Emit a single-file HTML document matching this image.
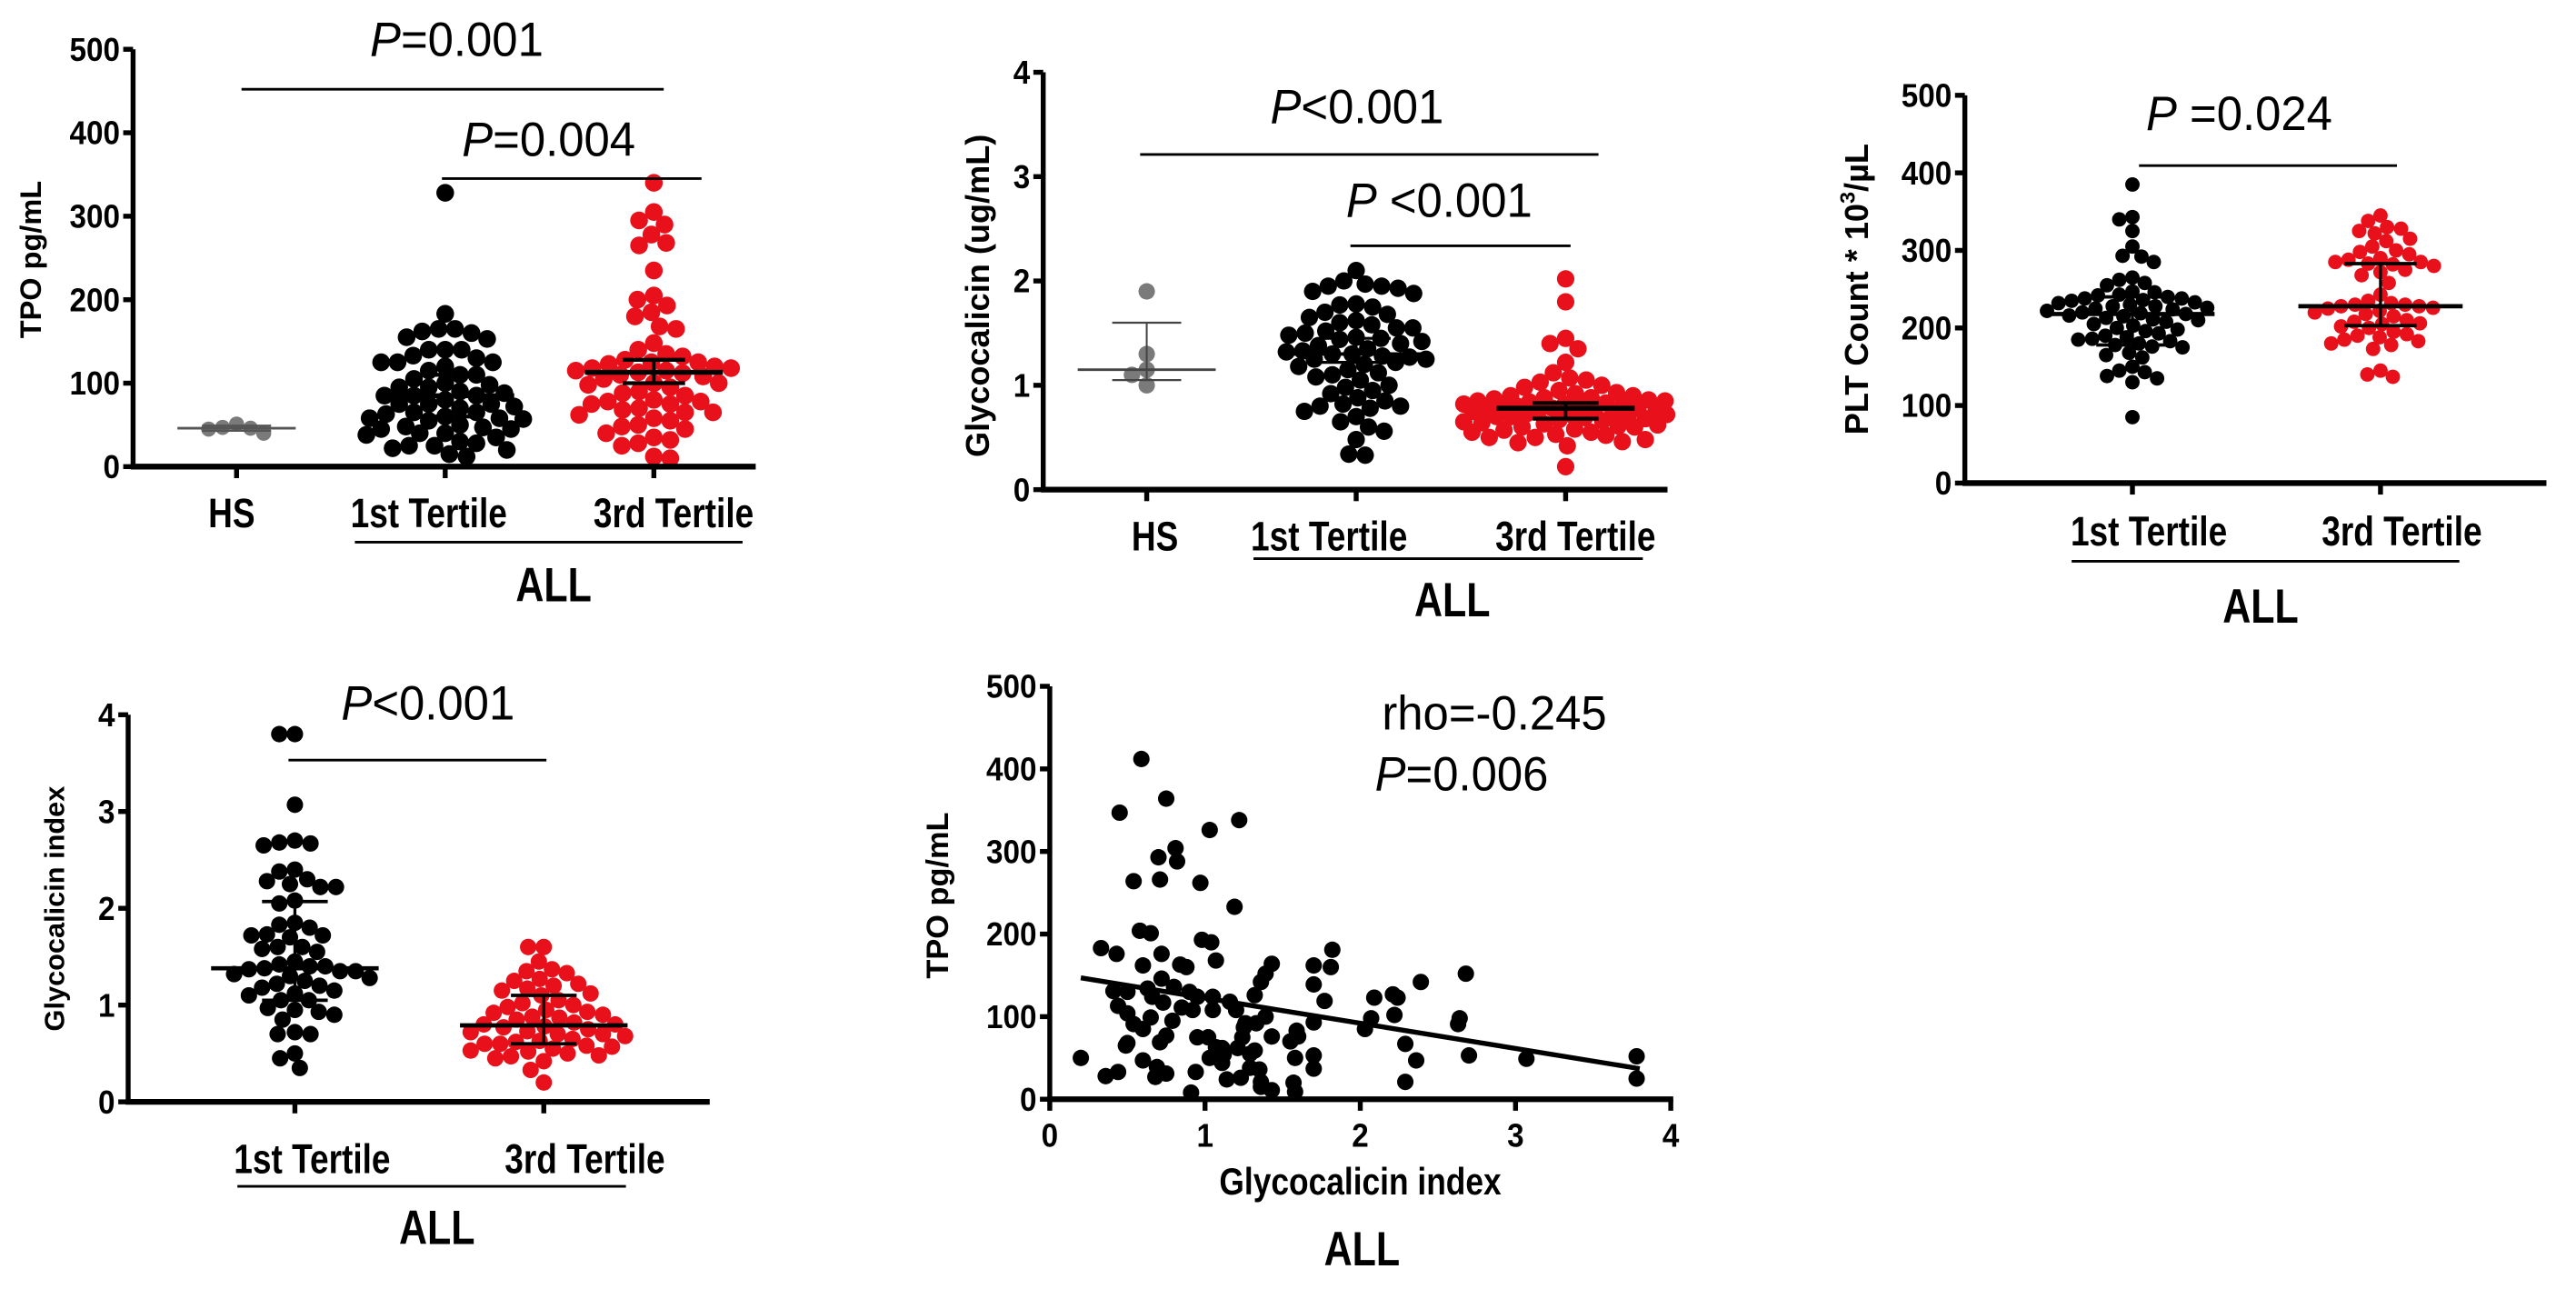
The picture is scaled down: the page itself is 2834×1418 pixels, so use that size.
<!DOCTYPE html>
<html><head><meta charset="utf-8"><title>TPO and Glycocalicin panels</title>
<style>
html,body{margin:0;padding:0;background:#fff;}
svg{display:block;}
.tick{font-family:"Liberation Sans",sans-serif;font-weight:bold;font-size:20px;fill:#000;}
.cat{font-family:"Liberation Sans",sans-serif;font-weight:bold;font-size:25px;fill:#000;}
.all{font-family:"Liberation Sans",sans-serif;font-weight:bold;font-size:29px;fill:#000;}
.ylab{font-family:"Liberation Sans",sans-serif;font-weight:bold;font-size:15px;fill:#000;}
.pv{font-family:"Liberation Sans",sans-serif;font-size:29px;fill:#000;}
</style></head>
<body>
<svg id="fig" width="2834" height="1418" viewBox="0 0 1568 784.5" preserveAspectRatio="none" xmlns="http://www.w3.org/2000/svg"></svg>
<script>
// ---- Panel A: TPO (pg/mL)
const aCats = ["HS","1st Tertile","3rd Tertile"];
const aTicks = [0,100,200,300,400,500];
const aHS = [46,51,45,47,40];
const aT1 = [328,183,165,165,162,160,153,155,140,140,140,133,130,125,125,125,120,115,110,110,105,100,98,95,95,90,88,85,85,85,80,75,75,75,72,70,65,65,63,60,58,58,57,55,50,48,47,45,45,40,40,38,35,30,28,25,25,22,20,15,12];
const aT3 = [340,305,295,290,278,268,265,235,205,200,193,185,180,168,165,148,140,135,132,128,125,125,123,120,118,118,115,115,113,112,110,108,105,100,100,98,95,90,88,85,80,78,78,75,75,70,68,65,65,62,58,55,50,48,45,40,35,32,28,25,12,10];
const aMedian = [46,85,113];
const aLow = [43,60,100];
const aHigh = [49,110,128];
// ---- Panel B: Glycocalicin (ug/mL)
const bCats = ["HS","1st Tertile","3rd Tertile"];
const bTicks = [0,1,2,3,4];
const bHS = [1.9,1.3,1.15,1.1,1.0];
const bT1 = [2.1,2.0,1.97,1.95,1.95,1.93,1.9,1.88,1.78,1.77,1.75,1.7,1.68,1.65,1.62,1.6,1.58,1.55,1.55,1.52,1.5,1.48,1.46,1.45,1.44,1.42,1.4,1.38,1.35,1.33,1.32,1.3,1.3,1.28,1.27,1.25,1.25,1.22,1.2,1.18,1.15,1.12,1.1,1.08,1.05,1.0,0.98,0.95,0.92,0.88,0.85,0.82,0.8,0.8,0.78,0.75,0.7,0.65,0.6,0.56,0.48,0.34,0.33];
const bT3 = [2.02,1.8,1.45,1.4,1.35,1.22,1.12,1.07,1.05,1.03,1.0,0.98,0.95,0.93,0.92,0.9,0.9,0.88,0.88,0.87,0.86,0.85,0.85,0.84,0.83,0.82,0.82,0.81,0.8,0.8,0.79,0.78,0.78,0.77,0.77,0.76,0.75,0.75,0.74,0.73,0.72,0.72,0.71,0.7,0.7,0.69,0.68,0.67,0.66,0.65,0.64,0.63,0.62,0.61,0.6,0.6,0.58,0.57,0.55,0.55,0.53,0.52,0.5,0.5,0.48,0.46,0.45,0.42,0.22];
const bMedian = [1.15,1.3,0.78];
const bLow = [1.05,1.22,0.68];
const bHigh = [1.6,1.45,0.83];
// ---- Panel C: PLT count
const cCats = ["1st Tertile","3rd Tertile"];
const cTicks = [0,100,200,300,400,500];
const cT1 = [385,343,340,325,305,293,292,285,265,262,258,255,247,246,243,242,240,238,238,236,235,233,232,230,228,228,226,225,224,222,220,219,218,216,215,213,211,210,208,205,203,200,198,196,193,190,188,186,185,183,180,178,176,175,168,165,162,150,145,143,138,135,130,85];
const cT3 = [345,338,330,328,325,322,315,312,305,300,298,295,290,288,285,285,283,282,280,275,272,268,258,243,235,232,230,230,228,228,226,225,222,220,218,215,210,208,206,205,202,200,195,192,190,188,185,183,180,178,173,145,140,137];
const cMedian = [218,228];
const cLow = [178,203];
const cHigh = [240,283];
// ---- Panel D: Glycocalicin index
const dCats = ["1st Tertile","3rd Tertile"];
const dTicks = [0,1,2,3,4];
const dT1 = [3.8,3.8,3.07,2.7,2.68,2.67,2.65,2.4,2.38,2.3,2.28,2.25,2.22,2.22,2.08,2.05,1.85,1.83,1.8,1.73,1.72,1.72,1.7,1.6,1.6,1.58,1.55,1.45,1.42,1.4,1.4,1.38,1.37,1.35,1.35,1.32,1.3,1.28,1.25,1.22,1.2,1.18,1.15,1.12,1.1,1.05,1.05,0.97,0.95,0.93,0.9,0.85,0.72,0.7,0.7,0.5,0.45,0.35];
const dT3 = [1.6,1.6,1.45,1.37,1.35,1.33,1.27,1.25,1.22,1.2,1.17,1.15,1.12,1.1,1.05,1.02,1.0,0.98,0.95,0.93,0.92,0.9,0.88,0.87,0.85,0.82,0.8,0.8,0.78,0.77,0.75,0.73,0.72,0.7,0.7,0.68,0.65,0.63,0.62,0.6,0.6,0.58,0.57,0.55,0.53,0.52,0.5,0.48,0.47,0.45,0.42,0.33,0.2];
const dMedian = [1.38,0.79];
const dLow = [1.05,0.6];
const dHigh = [2.07,1.1];
// ---- Panel E: scatter TPO vs glycocalicin index
const eXTicks = [0,1,2,3,4];
const eYTicks = [0,100,200,300,400,500];
const eX = [0.2,0.33,0.36,0.43,0.45,0.44,0.41,0.44,0.5,0.5,0.49,0.5,0.54,0.54,0.58,0.59,0.6,0.6,0.6,0.65,0.65,0.63,0.66,0.68,0.69,0.7,0.71,0.72,0.72,0.71,0.73,0.75,0.75,0.75,0.8,0.79,0.81,0.82,0.84,0.88,0.85,0.9,0.91,0.92,0.94,0.95,0.97,0.98,0.95,1.02,1.03,1.03,1.04,1.05,1.05,1.07,1.07,1.11,1.11,1.12,1.14,1.16,1.19,1.2,1.21,1.22,1.23,1.24,1.25,1.26,1.29,1.29,1.32,1.32,1.33,1.35,1.36,1.36,1.36,1.39,1.39,1.43,1.43,1.43,1.55,1.57,1.58,1.58,1.59,1.6,1.7,1.7,1.7,1.7,1.7,1.77,1.81,1.82,2.03,2.07,2.09,2.21,2.24,2.22,2.29,2.29,2.36,2.39,2.63,2.64,2.68,2.7,3.07,3.78,3.78];
const eY = [50,183,28,176,347,33,131,113,130,104,65,68,264,91,204,412,85,47,162,201,99,134,124,27,39,293,266,176,146,69,117,77,364,31,136,95,304,288,163,160,111,130,8,108,33,75,262,193,124,75,326,50,190,124,108,168,63,44,62,54,24,118,233,108,62,338,26,75,87,92,55,38,59,126,92,36,15,142,21,152,100,164,76,11,70,20,9,50,83,76,93,37,139,53,162,119,160,181,85,98,123,127,123,102,67,21,47,142,91,98,152,53,49,52,25];
const eFitX = [0.2,3.8];
const eFitY = [147,37];

const NS = "http://www.w3.org/2000/svg";
const svg = document.getElementById('fig');
const SQ = 0.82; // horizontal condensing for narrow look
function mk(tag, attrs, parent){ const e=document.createElementNS(NS,tag); for(const k in attrs) e.setAttribute(k,attrs[k]); (parent||svg).appendChild(e); return e; }
function txt(s, x, y, cls, anchor, parent, sq){ const t=mk('text',{x:0,y:0,'class':cls,'text-anchor':anchor||'middle',transform:`translate(${x},${y}) scale(${sq||SQ},1)`},parent); t.textContent=s; return t; }
function line(x1,y1,x2,y2,w,parent,col){ return mk('line',{x1:x1,y1:y1,x2:x2,y2:y2,stroke:col||'#000','stroke-width':w},parent); }
function pText(parent, x, y, rest){ const t=mk('text',{x:0,y:0,'class':'pv','text-anchor':'middle',transform:`translate(${x},${y}) scale(0.97,1)`},parent); const a=document.createElementNS(NS,'tspan'); a.setAttribute('font-style','italic'); a.textContent='P'; t.appendChild(a); const b=document.createElementNS(NS,'tspan'); b.textContent=rest; t.appendChild(b); return t; }

function yAxis(g, ax, y0, yTop, vmax, ticks){
  const sc = v => y0 - (v/vmax)*(y0-yTop);
  const axis = line(ax, yTop, ax, y0+1.5, 3, g);
  
  
  ticks.forEach(t=>{ line(ax-6, sc(t), ax, sc(t), 3, g); const l=txt(String(t), ax-8, sc(t)+7, 'tick', 'end', g, 0.92);
    
     });
  return sc;
}
function swarm(g, vals, cx, sc, r, col, name, maxW){
  const placed=[]; const d=2*r*0.92;
  const sorted = vals.slice().sort((a,b)=>b-a);
  sorted.forEach(v=>{
    const y=sc(v); let x=null; let best=cx, bestD=-1;
    for(let k=0;k<4*maxW;k++){
      const off = (k%2===0?1:-1)*Math.ceil(k/2)*0.5;
      if(Math.abs(off)>maxW) break;
      const tx=cx+off;
      let md=1e9; placed.forEach(p=>{ const dd=Math.hypot(p[0]-tx,p[1]-y); if(dd<md) md=dd; });
      if(md>=d){ x=tx; break; }
      if(md>bestD){ bestD=md; best=tx; }
    }
    if(x===null) x=best;
    placed.push([x,y]);
    const c=mk('circle',{cx:x,cy:y,r:r,fill:col},g);
    
    
  });
}
function bars(g, cx, sc, med, lo, hi, mhw, chw, w, col){
  const m=line(cx-mhw, sc(med), cx+mhw, sc(med), w, g, col);
  
  
  line(cx, sc(lo), cx, sc(hi), w*0.7, g, col);
  line(cx-chw, sc(lo), cx+chw, sc(lo), w*0.8, g, col);
  line(cx-chw, sc(hi), cx+chw, sc(hi), w*0.8, g, col);
}
function category(g, ax, y0, xEnd, xs, cats, labX, labY){
  line(ax-1.5, y0, xEnd, y0, 3.5, g);
  xs.forEach((x,i)=>{ line(x, y0, x, y0+7, 3, g); const t=txt(cats[i], labX[i], labY, 'cat', 'middle', g);
    
     });
}
function bracket(g, x1, x2, y, px, py, rest){
  const b=line(x1,y,x2,y,1.6,g);
  
  
  const t=pText(g, px, py, rest);
  
  
}
function group(name){ const g=mk('g',{});   return g; }
function yLabel(g, s, x, y, fs){ const t=mk('text',{x:0,y:0,'class':'ylab','text-anchor':'middle',transform:`translate(${x},${y}) rotate(-90)`},g); t.style.fontSize=fs+'px'; t.textContent=s;   return t; }
function allLabel(g, x1, x2, uy, ax, ay){ const u=line(x1,uy,x2,uy,1.6,g);   const t=txt('ALL',ax,ay,'all','middle',g);   }

// ===== Panel A
(function(){
  const g=group('panel-a-tpo');
  const sc=yAxis(g, 81, 284, 30, 500, aTicks);
  const xs=[144,271,398];
  const groups=[aHS,aT1,aT3], cols=['#7a7a7a','#000','#e8101a'];
  groups.forEach((vals,i)=>swarm(g, vals, xs[i], sc, i===0?4.6:5.4, cols[i], 'dot-'+(i===0?'hs':i===1?'tertile1':'tertile3'), 48));
  bars(g, xs[0], sc, aMedian[0], aLow[0], aHigh[0], 36, 21, 1.6, '#555');
  bars(g, xs[1], sc, aMedian[1], aLow[1], aHigh[1], 42, 19, 3, '#000');
  bars(g, xs[2], sc, aMedian[2], aLow[2], aHigh[2], 42, 19, 3, '#000');
  category(g, 81, 284, 460, xs, aCats, [141,261,410], 321);
  allLabel(g, 216, 452, 330, 337, 366);
  bracket(g, 147, 404, 54.3, 278, 34, '=0.001');
  bracket(g, 269, 427, 108.7, 334, 95, '=0.004');
  yLabel(g, 'TPO pg/mL', 25, 158, 18);
})();
// ===== Panel B
(function(){
  const g=group('panel-b-glycocalicin');
  const sc=yAxis(g, 635, 298, 44, 4, bTicks);
  const xs=[698,825.5,953];
  const groups=[bHS,bT1,bT3], cols=['#7a7a7a','#000','#e8101a'];
  groups.forEach((vals,i)=>swarm(g, vals, xs[i], sc, i===0?5:5.3, cols[i], 'dot-'+(i===0?'hs':i===1?'tertile1':'tertile3'), i===2?62:46));
  bars(g, xs[0], sc, bMedian[0], bLow[0], bHigh[0], 42, 21, 1.6, '#444');
  bars(g, xs[1], sc, bMedian[1], bLow[1], bHigh[1], 40, 21, 2.2, '#000');
  bars(g, xs[2], sc, bMedian[2], bLow[2], bHigh[2], 42, 20, 3, '#000');
  category(g, 635, 298, 1015, xs, bCats, [703,809,959], 335);
  allLabel(g, 763, 1000, 340, 884, 375);
  bracket(g, 694, 973, 94, 826, 75, '<0.001');
  bracket(g, 822, 956, 149.6, 876, 132, ' <0.001');
  yLabel(g, 'Glycocalicin (ug/mL)', 602, 180, 20);
})();
// ===== Panel C
(function(){
  const g=group('panel-c-platelets');
  const sc=yAxis(g, 1196, 294, 58, 500, cTicks);
  const xs=[1298,1449];
  [cT1,cT3].forEach((vals,i)=>swarm(g, vals, xs[i], sc, 4.4, i===0?'#000':'#e8101a', 'dot-'+(i===0?'tertile1':'tertile3'), 52));
  bars(g, xs[0], sc, cMedian[0], cLow[0], cHigh[0], 50, 22, 2.6, '#000');
  bars(g, xs[1], sc, cMedian[1], cLow[1], cHigh[1], 50, 22, 2.6, '#000');
  category(g, 1196, 294, 1550, xs, cCats, [1308,1462], 332);
  allLabel(g, 1261, 1497, 341.6, 1376, 379);
  bracket(g, 1302, 1459, 100.8, 1363, 79, ' =0.024');
  const t=mk('text',{x:0,y:0,'class':'ylab','text-anchor':'middle',transform:'translate(1137,176) rotate(-90)'},g);
  t.style.fontSize='20px';
  
  
  t.innerHTML='PLT Count * 10<tspan dy="-8" font-size="13">3</tspan><tspan dy="8">/µL</tspan>';
})();
// ===== Panel D
(function(){
  const g=group('panel-d-glycocalicin-index');
  const sc=yAxis(g, 78, 670.6, 435, 4, dTicks);
  const xs=[179.5,331];
  [dT1,dT3].forEach((vals,i)=>swarm(g, vals, xs[i], sc, 5, i===0?'#000':'#e8101a', 'dot-'+(i===0?'tertile1':'tertile3'), 55));
  bars(g, xs[0], sc, dMedian[0], dLow[0], dHigh[0], 51, 20, 2.6, '#000');
  bars(g, xs[1], sc, dMedian[1], dLow[1], dHigh[1], 51, 20, 2.6, '#000');
  category(g, 78, 670.6, 432, xs, dCats, [190,356], 714);
  allLabel(g, 144.5, 381, 722, 266, 757);
  bracket(g, 175.6, 332.6, 462.6, 260.5, 438, '<0.001');
  yLabel(g, 'Glycocalicin index', 39, 553, 17);
})();
// ===== Panel E
(function(){
  const g=group('panel-e-scatter');
  const ax=639, y0=669, yTop=417.7, xR=1017;
  const sy=yAxis(g, ax, y0, yTop, 500, eYTicks);
  const sx=v=>ax+(v/4)*(xR-ax);
  line(ax-1.5, y0, xR+1.5, y0, 3.5, g);
  eXTicks.forEach(t=>{ line(sx(t), y0, sx(t), y0+7, 3, g); const l=txt(String(t), sx(t), 698, 'tick', 'middle', g, 0.92);
    
     });
  eX.forEach((x,i)=>{ const c=mk('circle',{cx:sx(x),cy:sy(eY[i]),r:5,fill:'#000'},g);
    
     });
  const f=line(sx(eFitX[0]), sy(eFitY[0]), sx(eFitX[1]), sy(eFitY[1]), 3, g);
  
  
  const xt=txt('Glycocalicin index', 828, 727, 'cat', 'middle', g, 0.85);
  xt.style.fontSize='23px';
  
  
  const r=txt('rho=-0.245', 909.6, 444, 'pv', 'middle', g, 0.97);
  
  
  const p=pText(g, 889.7, 481, '=0.006');
  
  
  const a=txt('ALL', 829, 770, 'all', 'middle', g);
  
  
  yLabel(g, 'TPO pg/mL', 577, 545, 19);
})();
</script>
</body></html>
